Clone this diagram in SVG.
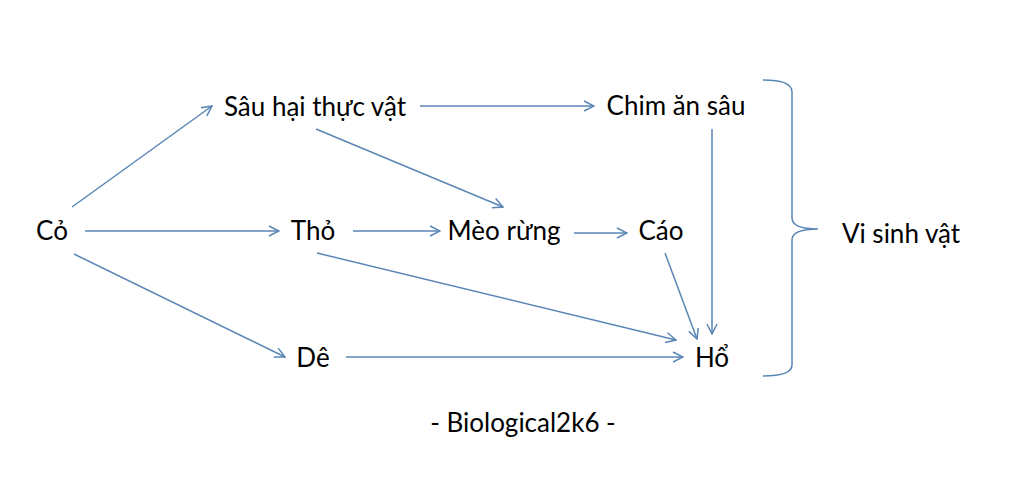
<svg xmlns="http://www.w3.org/2000/svg" width="1024" height="494" viewBox="0 0 1024 494">
<style>
text{font-family:Lato,"Open Sans","Noto Sans",sans-serif;font-size:26px;fill:#000;text-anchor:middle}
.c{stroke:#5a86b6;stroke-width:1.5;fill:none}
</style>
<defs>
<marker id="a" viewBox="0 0 12 12" refX="11" refY="6" markerWidth="12" markerHeight="12" markerUnits="userSpaceOnUse" orient="auto">
<path d="M1,1 L11,6 L1,11" fill="none" stroke="#5a86b6" stroke-width="1.5"/>
</marker>
</defs>
<rect width="1024" height="494" fill="#fff"/>
<g id="connectors">
<line class="c" x1="72" y1="207" x2="212" y2="106" marker-end="url(#a)"/>
<line class="c" x1="85" y1="231" x2="279" y2="231" marker-end="url(#a)"/>
<line class="c" x1="74" y1="254" x2="285" y2="357" marker-end="url(#a)"/>
<line class="c" x1="420" y1="106" x2="594" y2="106" marker-end="url(#a)"/>
<line class="c" x1="316" y1="129" x2="503" y2="207" marker-end="url(#a)"/>
<line class="c" x1="353" y1="231" x2="440" y2="231" marker-end="url(#a)"/>
<line class="c" x1="574" y1="233" x2="627" y2="233" marker-end="url(#a)"/>
<line class="c" x1="712" y1="129" x2="712" y2="334" marker-end="url(#a)"/>
<line class="c" x1="665" y1="253" x2="697" y2="339" marker-end="url(#a)"/>
<line class="c" x1="317" y1="253" x2="676" y2="340" marker-end="url(#a)"/>
<line class="c" x1="346" y1="357" x2="683" y2="357" marker-end="url(#a)"/>
<path class="c" d="M763,80 Q792,80 792,92 L792,218 Q792,229 818,229 Q792,229 792,240 L792,365 Q792,376 763,376"/>
</g>
<g id="co"><text x="52" y="240">Cỏ</text></g>
<g id="sau"><text x="315" y="116">Sâu hại thực vật</text></g>
<g id="chim"><text x="676" y="115">Chim ăn sâu</text></g>
<g id="tho"><text x="313" y="240">Thỏ</text></g>
<g id="meo"><text x="504" y="240">Mèo rừng</text></g>
<g id="cao"><text x="661" y="240">Cáo</text></g>
<g id="de"><text x="313" y="367">Dê</text></g>
<g id="ho"><text x="712" y="367">Hổ</text></g>
<g id="visinh"><text x="901" y="243">Vi sinh vật</text></g>
<g id="caption"><text x="523" y="432">- Biological2k6 -</text></g>
</svg>
